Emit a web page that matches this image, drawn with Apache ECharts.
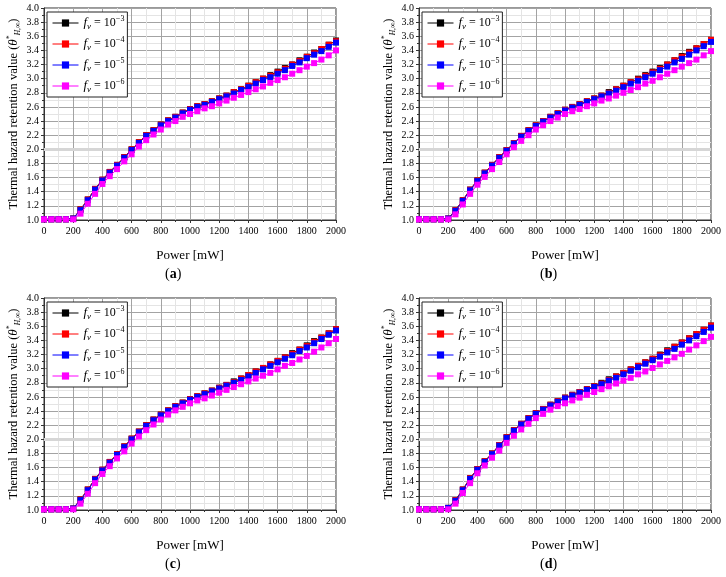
<!DOCTYPE html>
<html><head><meta charset="utf-8">
<script src="https://cdn.jsdelivr.net/npm/echarts@6/dist/echarts.min.js"></script>
<style>html,body{margin:0;padding:0;background:#fff}#c{width:726px;height:577px}</style>
</head><body><div id="c"></div>
<script>
// ---- data ----
const power = [0,50,100,150,200,250,300,350,400,450,500,550,600,650,700,750,800,850,900,950,1000,1050,1100,1150,1200,1250,1300,1350,1400,1450,1500,1550,1600,1650,1700,1750,1800,1850,1900,1950,2000];
const seriesNames = ['fv1e-3','fv1e-4','fv1e-5','fv1e-6'];
const legendExponents = ['−3','−4','−5','−6'];
const seriesColors = ['#000000','#ff0000','#0000ff','#ff00ff'];
const panelLabels = ['a','b','c','d'];

const a_f3 = [1.01,1.01,1.01,1.01,1.02,1.15,1.29,1.44,1.57,1.68,1.78,1.89,2.00,2.10,2.20,2.27,2.35,2.41,2.46,2.52,2.57,2.61,2.64,2.68,2.72,2.76,2.81,2.85,2.90,2.95,3.00,3.05,3.10,3.15,3.20,3.26,3.31,3.37,3.42,3.48,3.54];
const a_f4 = [1.01,1.01,1.01,1.01,1.02,1.15,1.29,1.44,1.57,1.68,1.78,1.89,2.00,2.10,2.20,2.27,2.35,2.41,2.46,2.52,2.57,2.61,2.64,2.68,2.72,2.76,2.81,2.85,2.90,2.95,3.00,3.04,3.09,3.14,3.20,3.25,3.31,3.36,3.42,3.48,3.53];
const a_f5 = [1.01,1.01,1.01,1.01,1.02,1.14,1.28,1.43,1.56,1.67,1.77,1.88,1.99,2.09,2.19,2.26,2.34,2.40,2.45,2.51,2.56,2.60,2.63,2.67,2.71,2.75,2.79,2.84,2.88,2.93,2.98,3.02,3.07,3.12,3.18,3.23,3.29,3.34,3.39,3.45,3.51];
const a_f6 = [1.01,1.01,1.01,1.01,1.01,1.09,1.23,1.37,1.51,1.62,1.72,1.83,1.93,2.04,2.13,2.21,2.28,2.35,2.40,2.46,2.50,2.54,2.58,2.61,2.65,2.69,2.73,2.77,2.81,2.85,2.89,2.94,2.98,3.02,3.07,3.12,3.17,3.22,3.27,3.33,3.40];

const b_f3 = [1.01,1.01,1.01,1.01,1.02,1.14,1.28,1.43,1.56,1.67,1.78,1.89,1.99,2.09,2.19,2.27,2.34,2.40,2.46,2.51,2.56,2.60,2.64,2.68,2.72,2.76,2.81,2.85,2.90,2.95,3.00,3.05,3.10,3.15,3.20,3.26,3.32,3.38,3.43,3.49,3.55];
const b_f4 = [1.01,1.01,1.01,1.01,1.02,1.14,1.28,1.43,1.56,1.67,1.78,1.89,1.99,2.09,2.19,2.27,2.34,2.40,2.46,2.51,2.56,2.60,2.64,2.68,2.72,2.76,2.80,2.85,2.90,2.95,2.99,3.04,3.09,3.14,3.20,3.26,3.31,3.37,3.43,3.49,3.55];
const b_f5 = [1.01,1.01,1.01,1.01,1.02,1.13,1.27,1.42,1.55,1.66,1.77,1.88,1.98,2.08,2.18,2.26,2.33,2.39,2.45,2.50,2.55,2.59,2.63,2.67,2.71,2.75,2.79,2.83,2.88,2.93,2.97,3.02,3.07,3.12,3.17,3.23,3.28,3.34,3.40,3.46,3.52];
const b_f6 = [1.01,1.01,1.01,1.01,1.01,1.08,1.22,1.37,1.50,1.61,1.72,1.82,1.93,2.03,2.12,2.20,2.28,2.34,2.40,2.45,2.50,2.54,2.57,2.61,2.65,2.69,2.72,2.76,2.80,2.84,2.88,2.93,2.97,3.02,3.07,3.12,3.17,3.22,3.27,3.33,3.39];

const c_f3 = [1.01,1.01,1.01,1.01,1.02,1.15,1.29,1.44,1.57,1.68,1.79,1.90,2.01,2.11,2.20,2.28,2.35,2.41,2.47,2.52,2.57,2.61,2.65,2.69,2.73,2.77,2.82,2.86,2.91,2.96,3.01,3.06,3.11,3.16,3.22,3.27,3.33,3.39,3.44,3.50,3.56];
const c_f4 = [1.01,1.01,1.01,1.01,1.02,1.15,1.29,1.44,1.57,1.68,1.79,1.90,2.01,2.11,2.20,2.28,2.35,2.41,2.47,2.52,2.57,2.61,2.65,2.69,2.73,2.77,2.81,2.86,2.91,2.96,3.01,3.06,3.11,3.16,3.21,3.27,3.32,3.38,3.44,3.50,3.56];
const c_f5 = [1.01,1.01,1.01,1.01,1.02,1.14,1.28,1.43,1.56,1.67,1.78,1.89,2.00,2.10,2.19,2.27,2.34,2.40,2.46,2.51,2.56,2.60,2.64,2.68,2.72,2.76,2.80,2.84,2.89,2.94,2.99,3.04,3.09,3.14,3.19,3.25,3.30,3.36,3.42,3.48,3.54];
const c_f6 = [1.01,1.01,1.01,1.01,1.01,1.09,1.23,1.38,1.51,1.62,1.73,1.83,1.94,2.04,2.13,2.21,2.28,2.35,2.41,2.46,2.51,2.55,2.58,2.62,2.66,2.70,2.74,2.78,2.82,2.86,2.90,2.94,2.99,3.04,3.08,3.13,3.18,3.24,3.30,3.36,3.42];

const d_f3 = [1.01,1.01,1.01,1.01,1.03,1.14,1.29,1.45,1.58,1.69,1.80,1.92,2.03,2.13,2.22,2.30,2.37,2.43,2.49,2.54,2.59,2.63,2.67,2.71,2.75,2.80,2.85,2.89,2.94,2.99,3.04,3.09,3.14,3.20,3.26,3.31,3.37,3.43,3.49,3.55,3.61];
const d_f4 = [1.01,1.01,1.01,1.01,1.03,1.14,1.29,1.45,1.58,1.69,1.80,1.92,2.03,2.13,2.22,2.30,2.37,2.43,2.49,2.54,2.59,2.63,2.67,2.71,2.75,2.79,2.84,2.89,2.94,2.99,3.04,3.09,3.14,3.19,3.25,3.31,3.37,3.43,3.49,3.55,3.61];
const d_f5 = [1.01,1.01,1.01,1.01,1.03,1.13,1.28,1.44,1.57,1.68,1.79,1.91,2.02,2.12,2.21,2.29,2.36,2.42,2.48,2.53,2.58,2.62,2.66,2.70,2.74,2.78,2.83,2.87,2.92,2.97,3.02,3.07,3.12,3.17,3.23,3.28,3.34,3.40,3.46,3.52,3.58];
const d_f6 = [1.01,1.01,1.01,1.01,1.01,1.09,1.24,1.38,1.52,1.63,1.74,1.84,1.95,2.05,2.14,2.22,2.30,2.36,2.42,2.47,2.51,2.55,2.59,2.63,2.67,2.71,2.75,2.79,2.83,2.87,2.92,2.96,3.01,3.06,3.11,3.16,3.21,3.27,3.33,3.39,3.45];

const panelData = [
  [a_f3,a_f4,a_f5,a_f6],
  [b_f3,b_f4,b_f5,b_f6],
  [c_f3,c_f4,c_f5,c_f6],
  [d_f3,d_f4,d_f5,d_f6]
];

// ---- layout ----
const FONT = 'Liberation Serif';
const gridPos = [[44,8],[419,8],[44,298],[419,298]];
const GW = 292, GH = 212;
const labelCenters = [[174,276],[549,276],[174,566],[549,566]];

const grids = [], xAxes = [], yAxes = [], series = [], legends = [], graphics = [];

gridPos.forEach((p, i) => {
  grids.push({left:p[0], top:p[1], width:GW, height:GH, show:true, borderColor:'#333', borderWidth:1, backgroundColor:'transparent'});
  xAxes.push({
    type:'value', gridIndex:i, min:0, max:2000, interval:200,
    axisLine:{show:true, onZero:false, lineStyle:{color:'#333', width:1}},
    axisTick:{show:true, length:3, lineStyle:{color:'#333'}},
    minorTick:{show:true, splitNumber:2, length:2, lineStyle:{color:'#333'}},
    splitLine:{show:true, lineStyle:{color:'#a3a3a3', width:1}},
    minorSplitLine:{show:true, lineStyle:{color:'#e4e4e4', width:1}},
    axisLabel:{fontFamily:FONT, fontSize:10, color:'#000', margin:6, formatter:v => String(v)},
    name:'Power [mW]', nameLocation:'middle', nameGap:29,
    nameTextStyle:{fontFamily:FONT, fontSize:13, color:'#000'}
  });
  yAxes.push({
    type:'value', gridIndex:i, min:1, max:4, interval:0.2,
    axisLine:{show:true, onZero:false, lineStyle:{color:'#333', width:1}},
    axisTick:{show:true, length:3, lineStyle:{color:'#333'}},
    minorTick:{show:true, splitNumber:2, length:2, lineStyle:{color:'#333'}},
    splitLine:{show:true, lineStyle:{color:'#a3a3a3', width:1}},
    minorSplitLine:{show:true, lineStyle:{color:'#e4e4e4', width:1}},
    axisLabel:{fontFamily:FONT, fontSize:10, color:'#000', margin:5, formatter:v => v.toFixed(1)},
    name:'Thermal hazard retention value ({th|θ}{sup|*}{sub|H,∞})',
    nameLocation:'middle', nameGap:22, nameRotate:90,
    nameTextStyle:{fontFamily:FONT, fontSize:12.5, color:'#000', lineHeight:16,
      rich:{
        th:{fontFamily:FONT, fontSize:13, fontStyle:'italic', color:'#000', lineHeight:16},
        sup:{fontFamily:FONT, fontSize:8, color:'#000', verticalAlign:'top', lineHeight:8},
        sub:{fontFamily:FONT, fontSize:7.5, fontStyle:'italic', color:'#000', verticalAlign:'bottom', lineHeight:8}
      }}
  });
  // light thick reference line at 2.0 (drawn under the data)
  series.push({
    type:'line', xAxisIndex:i, yAxisIndex:i, data:[], z:1, silent:true,
    markLine:{silent:true, z:1, symbol:'none', animation:false, label:{show:false},
      lineStyle:{color:'#d6d6d6', width:3, type:'solid'}, data:[{yAxis:2}]}
  });
  seriesNames.forEach((nm, k) => {
    const vals = panelData[i][k];
    series.push({
      type:'line', name:nm, xAxisIndex:i, yAxisIndex:i,
      data: power.map((x, j) => [x, vals[j]]),
      symbol:'rect', symbolSize:6, showSymbol:true,
      lineStyle:{color:seriesColors[k], width:1},
      itemStyle:{color:seriesColors[k]},
      z:3+k, animation:false
    });
  });
  legends.push({
    orient:'vertical', left:p[0]+3, top:p[1]+4,
    data:seriesNames, selectedMode:false,
    backgroundColor:'#fff', borderColor:'#222', borderWidth:1,
    padding:[3,3,3,5], itemGap:5, itemWidth:26, itemHeight:9,
    lineStyle:{width:1},
    formatter: name => '{f|f}{v|v}{t| = 10}{e|' + legendExponents[seriesNames.indexOf(name)] + '}',
    textStyle:{fontFamily:FONT, fontSize:12, color:'#000', lineHeight:16,
      rich:{
        f:{fontFamily:FONT, fontSize:13, fontStyle:'italic', color:'#000', lineHeight:16},
        v:{fontFamily:FONT, fontSize:9, fontStyle:'italic', color:'#000', verticalAlign:'bottom', lineHeight:9},
        t:{fontFamily:FONT, fontSize:12, color:'#000', lineHeight:16},
        e:{fontFamily:FONT, fontSize:8, color:'#000', verticalAlign:'top', lineHeight:8}
      }}
  });
  graphics.push({
    type:'text', left:labelCenters[i][0]-9, top:labelCenters[i][1]-9,
    style:{text:'({b|' + panelLabels[i] + '})', fontFamily:FONT, fontSize:14, fill:'#000',
      rich:{b:{fontFamily:FONT, fontSize:14, fontWeight:'bold', fill:'#000', color:'#000'}}}
  });
});

const chart = echarts.init(document.getElementById('c'), null, {renderer:'canvas'});
chart.setOption({
  animation:false,
  backgroundColor:'#fff',
  color:seriesColors,
  grid:grids, xAxis:xAxes, yAxis:yAxes, series:series, legend:legends, graphic:graphics
});
</script></body></html>
